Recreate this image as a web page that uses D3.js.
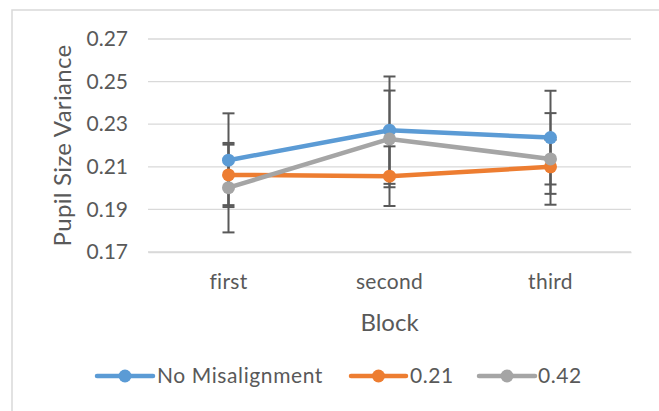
<!DOCTYPE html>
<html><head><meta charset="utf-8">
<script src="https://cdn.jsdelivr.net/npm/d3@7"></script>
<style>html,body{margin:0;padding:0;background:#fff;}svg{display:block;font-family:Lato,"Open Sans",sans-serif;font-variant-ligatures:none;font-feature-settings:"liga" 0;}</style>
</head><body>
<svg id="chart" width="659" height="411"></svg>
<script>
const categories = ["first", "second", "third"];
const seriesNames = ["No Misalignment", "0.21", "0.42"];
const noMisalignment = [0.2131, 0.2272, 0.2237];
const mis021 = [0.2062, 0.2056, 0.2100];
const mis042 = [0.2002, 0.2231, 0.2137];
const errNoMisalignment = [0.0220, 0.0252, 0.0220];
const err021 = [0.0142, 0.0140, 0.0127];
const err042 = [0.0210, 0.0227, 0.0215];
const yTicks = [0.17, 0.19, 0.21, 0.23, 0.25, 0.27];
const colors = ["#5B9BD5", "#ED7D31", "#A5A5A5"];

const series = [
  {name: seriesNames[0], values: noMisalignment, err: errNoMisalignment, color: colors[0]},
  {name: seriesNames[1], values: mis021, err: err021, color: colors[1]},
  {name: seriesNames[2], values: mis042, err: err042, color: colors[2]}
];

const svg = d3.select("#chart");
const plot = {left: 148, right: 631, top: 39, bottom: 252};
const textColor = "#595959";

// outer border
svg.append("path").attr("d", "M12,411 V10 H659").attr("fill", "none")
  .attr("stroke", "#d9d9d9").attr("stroke-width", 1.5);

const x = d3.scaleBand().domain(categories).range([plot.left, plot.right]);
const y = d3.scaleLinear().domain([0.17, 0.27]).range([plot.bottom, plot.top]);

// gridlines
svg.append("g").selectAll("line").data(yTicks).join("line")
  .attr("x1", plot.left).attr("x2", plot.right)
  .attr("y1", d => y(d)).attr("y2", d => y(d))
  .attr("stroke", "#d9d9d9").attr("stroke-width", 1.3);

// y axis labels
const yAxis = d3.axisLeft(y).tickValues(yTicks).tickFormat(d3.format(".2f")).tickSize(0).tickPadding(20);
const gy = svg.append("g").attr("transform", `translate(${plot.left},0)`).call(yAxis);
gy.select(".domain").remove();
gy.selectAll("text").attr("fill", textColor).style("font-size", "21px").style("font-family", "Lato");

// x axis labels
const xAxis = d3.axisBottom(x).tickSize(0).tickPadding(22);
const gx = svg.append("g").attr("transform", `translate(0,${plot.bottom})`).call(xAxis);
gx.select(".domain").attr("stroke", "#d9d9d9").attr("stroke-width", 1.3);
gx.selectAll("text").attr("fill", textColor).style("font-size", "21px").style("font-family", "Lato")
  .style("letter-spacing", "0.3px");

// axis titles
svg.append("text").attr("x", x.bandwidth() * 1.5 + plot.left).attr("y", 331)
  .attr("text-anchor", "middle").attr("fill", textColor).style("font-size", "24px").text("Block");
svg.append("text").attr("transform", `translate(71,${(plot.top + plot.bottom) / 2}) rotate(-90)`)
  .attr("text-anchor", "middle").attr("fill", textColor).style("font-size", "24px")
  .style("letter-spacing", "0.3px").text("Pupil Size Variance");

const cx = c => x(c) + x.bandwidth() / 2;
const line = d3.line().x((d, i) => cx(categories[i])).y(d => y(d));

// lines
series.forEach(s => {
  svg.append("path").datum(s.values).attr("d", line).attr("fill", "none")
    .attr("stroke", s.color).attr("stroke-width", 4.5).attr("stroke-linejoin", "round").attr("stroke-linecap", "round");
});

// error bars
series.forEach(s => {
  const g = svg.append("g").attr("stroke", "#595959").attr("stroke-width", 2);
  s.values.forEach((v, i) => {
    const px = cx(categories[i]);
    g.append("line").attr("x1", px).attr("x2", px).attr("y1", y(v - s.err[i])).attr("y2", y(v + s.err[i]));
    [v - s.err[i], v + s.err[i]].forEach(e => {
      g.append("line").attr("x1", px - 6).attr("x2", px + 6).attr("y1", y(e)).attr("y2", y(e));
    });
  });
});

// markers
series.forEach(s => {
  svg.append("g").selectAll("circle").data(s.values).join("circle")
    .attr("cx", (d, i) => cx(categories[i])).attr("cy", d => y(d)).attr("r", 6.5)
    .attr("fill", s.color);
});

// legend
const legendItems = [
  {x1: 97, x2: 153, tx: 157},
  {x1: 351, x2: 406, tx: 410},
  {x1: 479, x2: 535, tx: 538}
];
series.forEach((s, i) => {
  const li = legendItems[i];
  const g = svg.append("g");
  g.append("line").attr("x1", li.x1).attr("x2", li.x2).attr("y1", 376).attr("y2", 376)
    .attr("stroke", s.color).attr("stroke-width", 4.5).attr("stroke-linecap", "round");
  g.append("circle").attr("cx", (li.x1 + li.x2) / 2).attr("cy", 376).attr("r", 6.5).attr("fill", s.color);
  g.append("text").attr("x", li.tx).attr("y", 376).attr("dy", "0.35em").attr("fill", textColor)
    .style("font-size", "21px").style("letter-spacing", "0.6px").text(s.name);
});
</script>
</body></html>
